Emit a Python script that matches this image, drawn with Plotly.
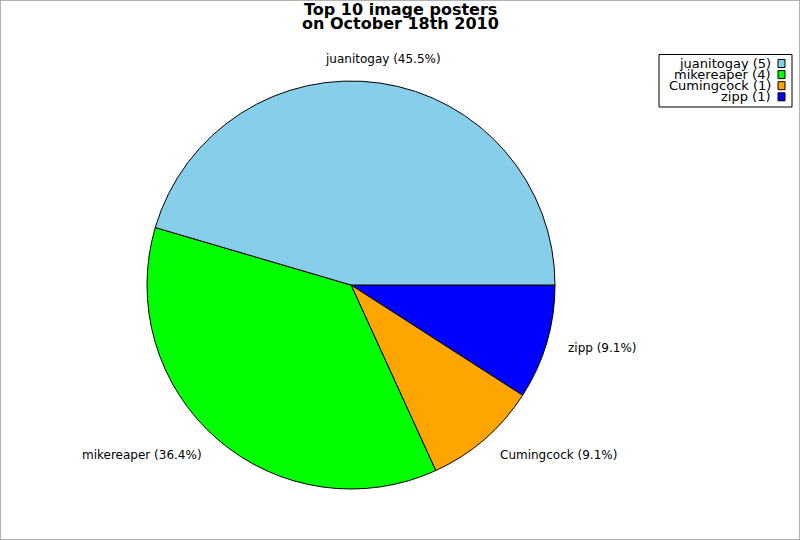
import math
import plotly.graph_objects as go

# top posters of the day
names = ["juanitogay", "mikereaper", "Cumingcock", "zipp"]
counts = [5, 4, 1, 1]
colors = ["#87CEEB", "#00FF00", "#FFA500", "#0000FF"]
title_lines = ["Top 10 image posters", "on October 18th 2010"]

W, H = 800, 540
cx, cy, r = 351, 285, 204

fig = go.Figure()
# slices run counter-clockwise from 3 o'clock, so feed them reversed clockwise
fig.add_trace(go.Pie(
    labels=names[::-1], values=counts[::-1], sort=False,
    direction="clockwise", rotation=90,
    marker=dict(colors=colors[::-1], line=dict(color="black", width=1)),
    textinfo="none",
    domain=dict(x=[(cx - r) / W, (cx + r) / W],
                y=[(H - cy - r) / H, (H - cy + r) / H]),
    showlegend=False, hoverinfo="label+value+percent",
))

fig.update_layout(
    width=W, height=H,
    margin=dict(l=0, r=0, t=0, b=0),
    paper_bgcolor="white",
    font=dict(family="DejaVu Sans", color="black"),
)

for i, line in enumerate(title_lines):
    fig.add_annotation(xref="paper", yref="paper", x=0.5, y=1 - (10 + i * 14) / H,
                       xanchor="center", yanchor="middle", showarrow=False,
                       text=f"<b>{line}</b>", font=dict(size=16, family="DejaVu Sans"))

# slice labels a bit outside the rim, at each slice's middle angle
total = sum(counts)
done = 0
for n, c in zip(names, counts):
    a = 2 * math.pi * (done + c / 2) / total
    done += c
    d = r * 1.10
    lx, ly = cx + d * math.cos(a), cy - d * math.sin(a)
    if math.cos(a) > 0.3:
        anchor = "left"
    elif math.cos(a) < -0.3:
        anchor = "right"
    else:
        anchor = "center"
        ly -= 4
    fig.add_annotation(xref="paper", yref="paper", x=lx / W, y=1 - ly / H,
                       xanchor=anchor, yanchor="middle", showarrow=False,
                       text=f"{n} ({100 * c / total:.1f}%)",
                       font=dict(size=12, family="DejaVu Sans"))

# legend box drawn by hand: text right aligned, swatch on the right
fig.add_shape(type="rect", xref="paper", yref="paper",
              x0=659 / W, x1=792 / W, y0=1 - 107 / H, y1=1 - 54.5 / H,
              line=dict(color="black", width=1), fillcolor="white")
for i, (n, c, col) in enumerate(zip(names, counts, colors)):
    yc = 63.5 + i * 11.1
    fig.add_annotation(xref="paper", yref="paper", x=773 / W, y=1 - yc / H,
                       xanchor="right", yanchor="middle", showarrow=False,
                       text=f"{n} ({c})", font=dict(size=13, family="DejaVu Sans"))
    fig.add_shape(type="rect", xref="paper", yref="paper",
                  x0=778 / W, x1=785 / W, y0=1 - (yc + 4) / H, y1=1 - (yc - 4) / H,
                  line=dict(color="black", width=1), fillcolor=col)

# outer frame
fig.add_shape(type="rect", xref="paper", yref="paper", x0=0, x1=1, y0=0, y1=1,
              line=dict(color="#999999", width=1.5))

fig.write_html("out.html", config={"displayModeBar": False},
               post_script="document.body.style.margin='0';")
